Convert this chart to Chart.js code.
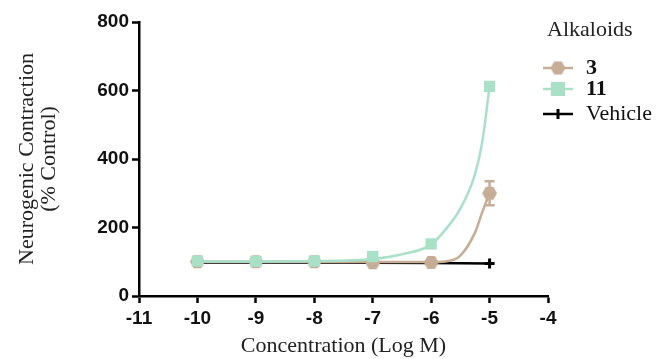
<!DOCTYPE html>
<html>
<head>
<meta charset="utf-8">
<script src="https://cdn.jsdelivr.net/npm/chart.js@4"></script>
<style>
  html, body { margin:0; padding:0; background:#fff; }
  #wrap { width:663px; height:359px; position:relative; }
</style>
</head>
<body>
<div id="wrap"><canvas id="chart" width="663" height="359"></canvas></div>
<script>
// data
const concX = [-10, -9, -8, -7, -6, -5];
const alk3 = [100, 100, 100, 97, 98, 300];
const alk3Err = [0, 0, 0, 0, 0, 35];
const alk11 = [102, 101, 102, 115, 152, 612];
const vehicle = [98, 98, 98, 97, 96, 95];
// fitted curves
const fit3X = [-10, -9, -8, -7, -6, -5.75, -5.5, -5.25, -5.125, -5];
const fit3 = [100, 100, 100, 99, 99, 101, 118, 185, 245, 300];
const fit11X = [-10, -9, -8, -7, -6.5, -6, -5.75, -5.5, -5.25, -5.125, -5];
const fit11 = [101, 101, 102, 108, 122, 150, 195, 255, 355, 450, 612];
const yTicks = [0, 200, 400, 600, 800];
const xTicks = [-11, -10, -9, -8, -7, -6, -5, -4];
const legendTitle = 'Alkaloids';
const seriesNames = ['3', '11', 'Vehicle'];

const TAN = '#c6ad96';
const GREEN = '#a9e0c8';

function pts(xs, ys){ return xs.map((x, i) => ({x: x, y: ys[i]})); }

// hexagon marker
function hexagon(r, color){
  const c = document.createElement('canvas');
  c.width = c.height = r * 2 + 2;
  const g = c.getContext('2d');
  g.fillStyle = color;
  g.beginPath();
  for(let i = 0; i < 6; i++){
    const a = Math.PI / 3 * i;
    const px = r + 1 + r * Math.cos(a), py = r + 1 + r * Math.sin(a);
    if(i === 0) g.moveTo(px, py); else g.lineTo(px, py);
  }
  g.closePath();
  g.fill();
  return c;
}
const hex = hexagon(7.5, TAN);

// error bars for series 3
const errorBars = {
  id: 'errorBars',
  afterDatasetsDraw(chart){
    const ctx = chart.ctx, xs = chart.scales.x, ys = chart.scales.y;
    ctx.save();
    ctx.strokeStyle = TAN; ctx.lineWidth = 2.5;
    concX.forEach((x, i) => {
      if(!alk3Err[i]) return;
      const px = xs.getPixelForValue(x);
      const top = ys.getPixelForValue(alk3[i] + alk3Err[i]);
      const bot = ys.getPixelForValue(alk3[i] - alk3Err[i]);
      ctx.beginPath();
      ctx.moveTo(px, top); ctx.lineTo(px, bot);
      ctx.moveTo(px - 5, top); ctx.lineTo(px + 5, top);
      ctx.moveTo(px - 5, bot); ctx.lineTo(px + 5, bot);
      ctx.stroke();
    });
    ctx.restore();
  }
};

// legend on the right
const sideLegend = {
  id: 'sideLegend',
  afterDraw(chart){
    const ctx = chart.ctx;
    ctx.save();
    ctx.fillStyle = '#222';
    ctx.textBaseline = 'middle';
    ctx.font = '22px "Liberation Serif", "Times New Roman", serif';
    ctx.fillText(legendTitle, 547, 30);
    const rows = [68, 89, 114];
    const x0 = 543, x1 = 573, mx = 558;
    // 3
    ctx.strokeStyle = TAN; ctx.lineWidth = 2.5;
    ctx.beginPath(); ctx.moveTo(x0, rows[0]); ctx.lineTo(x1, rows[0]); ctx.stroke();
    ctx.drawImage(hex, mx - hex.width / 2, rows[0] - hex.height / 2);
    // 11
    ctx.strokeStyle = GREEN;
    ctx.beginPath(); ctx.moveTo(x0, rows[1]); ctx.lineTo(x1, rows[1]); ctx.stroke();
    ctx.fillStyle = GREEN; ctx.fillRect(mx - 7, rows[1] - 7, 14, 14);
    // vehicle
    ctx.strokeStyle = '#000';
    ctx.beginPath(); ctx.moveTo(x0, rows[2]); ctx.lineTo(x1, rows[2]); ctx.stroke();
    ctx.lineWidth = 3;
    ctx.beginPath(); ctx.moveTo(mx, rows[2] - 5); ctx.lineTo(mx, rows[2] + 5); ctx.stroke();
    ctx.fillStyle = '#111';
    ctx.font = 'bold 22px "Liberation Serif", "Times New Roman", serif';
    ctx.fillText(seriesNames[0], 586, rows[0]);
    ctx.fillText(seriesNames[1], 586, rows[1]);
    ctx.font = '22px "Liberation Serif", "Times New Roman", serif';
    ctx.fillText(seriesNames[2], 586, rows[2]);
    ctx.restore();
  }
};

const tickFont = {family: '"Liberation Sans", Arial, sans-serif', size: 19, weight: 'bold'};
const titleFont = {family: '"Liberation Serif", "Times New Roman", serif', size: 22, lineHeight: 1.0};

new Chart(document.getElementById('chart'), {
  type: 'scatter',
  data: {
    datasets: [
      {label: 'fit11', data: pts(fit11X, fit11), showLine: true, borderColor: GREEN, borderWidth: 2.5,
       pointRadius: 0, cubicInterpolationMode: 'monotone', order: 1},
      {label: seriesNames[1], data: pts(concX, alk11), showLine: false, pointStyle: 'rect',
       pointRadius: 8, backgroundColor: GREEN, borderWidth: 0, order: 0},
      {label: 'fit3', data: pts(fit3X, fit3), showLine: true, borderColor: TAN, borderWidth: 2.5,
       pointRadius: 0, cubicInterpolationMode: 'monotone', order: 3},
      {label: seriesNames[0], data: pts(concX, alk3), showLine: false, pointStyle: hex,
       pointRadius: 7, backgroundColor: TAN, order: 2},
      {label: seriesNames[2], data: pts(concX, vehicle), showLine: true, borderColor: '#000', borderWidth: 2.5,
       pointStyle: 'cross', pointRadius: 5, pointBorderWidth: 3, pointBorderColor: '#000', order: 4}
    ]
  },
  options: {
    responsive: false,
    animation: false,
    layout: {padding: {top: 22, right: 115, left: 16, bottom: 0}},
    plugins: {legend: {display: false}, tooltip: {enabled: false}},
    scales: {
      x: {
        type: 'linear', min: -11, max: -4,
        afterBuildTicks: s => { s.ticks = xTicks.map(v => ({value: v})); },
        afterFit: s => { s.height = 63; },
        border: {display: true, color: '#000', width: 2.5},
        grid: {drawOnChartArea: false, drawTicks: true, tickLength: 7, tickWidth: 2.5, tickColor: '#000'},
        ticks: {font: tickFont, color: '#111', padding: 4, maxRotation: 0},
        title: {display: true, text: 'Concentration (Log M)', font: titleFont, color: '#222', padding: {top: 0, bottom: 2}}
      },
      y: {
        min: 0, max: 800,
        afterBuildTicks: s => { s.ticks = yTicks.map(v => ({value: v})); },
        afterFit: s => { s.width = 123; },
        border: {display: true, color: '#000', width: 2.5},
        grid: {drawOnChartArea: false, drawTicks: true, tickLength: 7, tickWidth: 2.5, tickColor: '#000'},
        ticks: {font: tickFont, color: '#111', padding: 3},
        title: {display: true, text: ['Neurogenic Contraction', '(% Control)'], font: titleFont, color: '#222',
                padding: {top: 0, bottom: 0}}
      }
    }
  },
  plugins: [errorBars, sideLegend]
});
</script>
</body>
</html>
